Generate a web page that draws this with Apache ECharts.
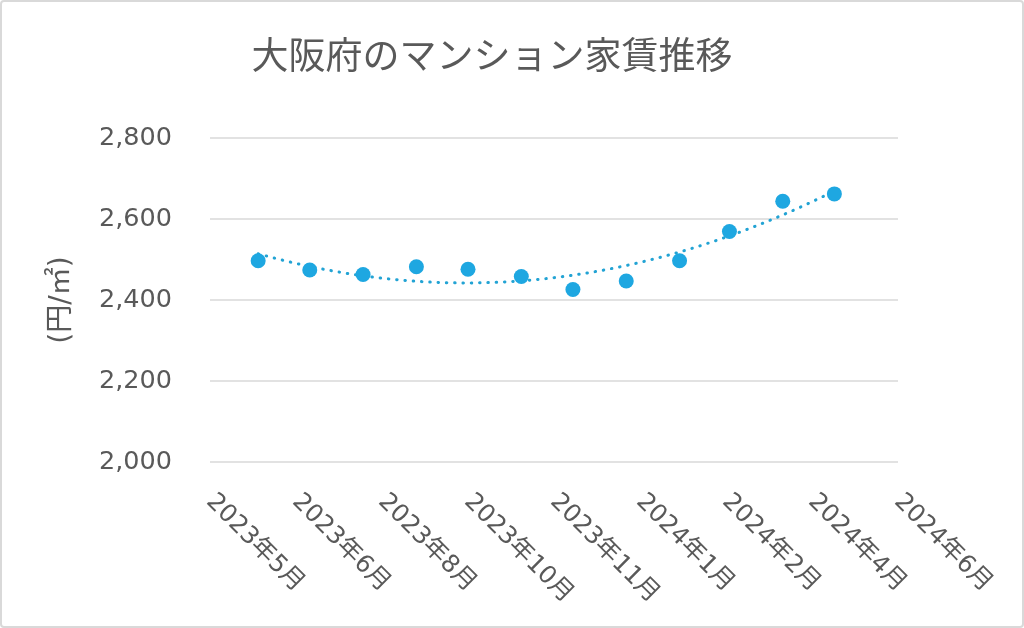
<!DOCTYPE html>
<html>
<head>
<meta charset="utf-8">
<script src="https://cdn.jsdelivr.net/npm/echarts@6/dist/echarts.min.js"></script>
<style>
  html, body { margin: 0; padding: 0; background: #fff; }
  #chart { width: 1024px; height: 628px; box-sizing: border-box; border: 2px solid #d9d9d9; border-radius: 4px; }
</style>
</head>
<body>
<div id="chart"></div>
<script>
// 月次データ（各月1日）
const dates = ['2023-06-01', '2023-07-01', '2023-08-01', '2023-09-01', '2023-10-01', '2023-11-01',
               '2023-12-01', '2024-01-01', '2024-02-01', '2024-03-01', '2024-04-01', '2024-05-01'];
const rents = [2497, 2474, 2463, 2482, 2476, 2458, 2426, 2447, 2497, 2569, 2644, 2662];

// 横軸：2023-05-04 から 50日刻み
const axisStart = '2023-05-04';
const axisDays = 400;
const tickDays = 50;

const DAY = 86400000;
const startMs = Date.parse(axisStart);
const xs = dates.map(d => (Date.parse(d) - startMs) / DAY);

// 2次の近似曲線（最小二乗）
const fitQuad = (x, y) => {
  const n = x.length;
  let s = [0, 0, 0, 0, 0], t = [0, 0, 0];
  for (let i = 0; i < n; i++) {
    for (let k = 0; k < 5; k++) s[k] += Math.pow(x[i], k);
    for (let k = 0; k < 3; k++) t[k] += y[i] * Math.pow(x[i], k);
  }
  const m = [[s[0], s[1], s[2], t[0]], [s[1], s[2], s[3], t[1]], [s[2], s[3], s[4], t[2]]];
  for (let i = 0; i < 3; i++) {
    for (let j = i + 1; j < 3; j++) {
      const f = m[j][i] / m[i][i];
      for (let k = i; k < 4; k++) m[j][k] -= f * m[i][k];
    }
  }
  const c = [0, 0, 0];
  for (let i = 2; i >= 0; i--) {
    let v = m[i][3];
    for (let k = i + 1; k < 3; k++) v -= m[i][k] * c[k];
    c[i] = v / m[i][i];
  }
  return c;
};
const coef = fitQuad(xs, rents);
const trend = [];
const x0 = xs[0], x1 = xs[xs.length - 1];
for (let i = 0; i <= 80; i++) {
  const x = x0 + (x1 - x0) * i / 80;
  trend.push([x, coef[0] + coef[1] * x + coef[2] * x * x]);
}

const FONT = 'DejaVu Sans, Noto Sans CJK JP, sans-serif';
const chart = echarts.init(document.getElementById('chart'));
chart.setOption({
  animation: false,
  title: {
    text: '大阪府のマンション家賃推移',
    left: 485,
    top: 34,
    textAlign: 'center',
    textStyle: { fontFamily: FONT, fontSize: 37, fontWeight: 'normal', color: '#595959' }
  },
  grid: { left: 208, right: 124, top: 136, bottom: 164, containLabel: false },
  xAxis: {
    type: 'value',
    min: 0,
    max: axisDays,
    interval: tickDays,
    axisLine: { show: false },
    axisTick: { show: false },
    splitLine: { show: false },
    axisLabel: {
      rotate: -45,
      margin: 36,
      color: '#595959',
      fontFamily: FONT,
      fontSize: 24.5,
      formatter: v => {
        const d = new Date(startMs + v * DAY);
        return d.getUTCFullYear() + '年' + (d.getUTCMonth() + 1) + '月';
      }
    }
  },
  yAxis: {
    type: 'value',
    min: 2000,
    max: 2800,
    interval: 200,
    name: '(円/㎡)',
    nameLocation: 'middle',
    nameRotate: 90,
    nameGap: 134,
    nameTextStyle: { fontFamily: FONT, fontSize: 28, color: '#595959' },
    axisLine: { show: false },
    axisTick: { show: false },
    splitLine: { lineStyle: { color: '#d9d9d9', width: 1.5 } },
    axisLabel: {
      margin: 38,
      color: '#595959',
      fontFamily: FONT,
      fontSize: 25.5,
      formatter: v => v.toLocaleString('en-US')
    }
  },
  series: [
    {
      name: 'trend',
      type: 'line',
      data: trend,
      showSymbol: false,
      symbol: 'none',
      lineStyle: { color: '#22a3d4', width: 3, type: [0.5, 7.8], cap: 'round' },
      z: 2
    },
    {
      name: 'rent',
      type: 'scatter',
      data: xs.map((x, i) => [x, rents[i]]),
      symbolSize: 15,
      itemStyle: { color: '#1ea7e1', opacity: 1 },
      z: 3
    }
  ]
});
</script>
</body>
</html>
